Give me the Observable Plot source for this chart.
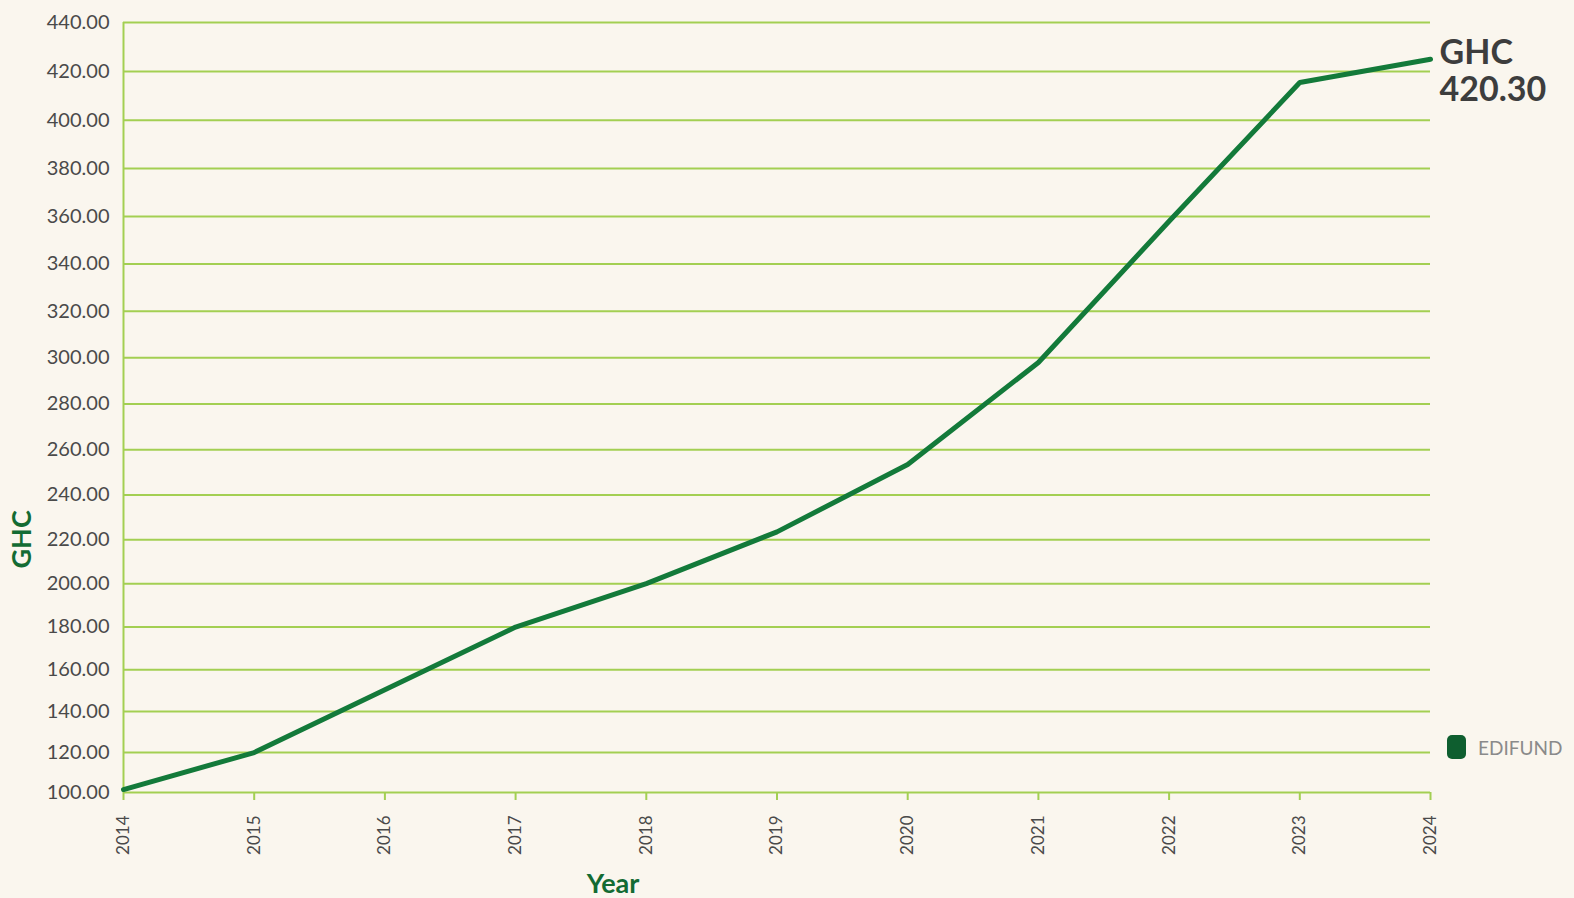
<!DOCTYPE html>
<html>
<head>
<meta charset="utf-8">
<script src="https://cdn.jsdelivr.net/npm/d3@7"></script>
<script src="https://cdn.jsdelivr.net/npm/@observablehq/plot@0.6"></script>
<style>
  html, body { margin: 0; padding: 0; background: #faf6ee; }
  #wrap { position: relative; width: 1574px; height: 898px; }
  #legend { position: absolute; left: 1447px; top: 735px; display: flex; align-items: center;
            font-family: Lato, "Open Sans", sans-serif; font-size: 19px; color: #8a8a8a; }
  #legend .sw { width: 19px; height: 24px; border-radius: 5px; background: #0e5e2f; margin-right: 12px; }
</style>
</head>
<body>
<div id="wrap"><div id="legend"><div class="sw"></div><span id="legtext"></span></div></div>
<script>
const years = [2014, 2015, 2016, 2017, 2018, 2019, 2020, 2021, 2022, 2023, 2024];
const edifund = [101.5, 120, 150.5, 180, 200, 223.5, 253.5, 298, 358, 415.5, 425];
const yTicks = [100, 120, 140, 160, 180, 200, 220, 240, 260, 280, 300, 320, 340, 360, 380, 400, 420, 440];
const seriesName = "EDIFUND";
const endLabel = ["GHC", "420.30"];
const xTitle = "Year";
const yTitle = "GHC";

const data = years.map((year, i) => ({ year, value: edifund[i] }));
const last = data[data.length - 1];

const grid = "#a3cf52";
const lineColor = "#137a3a";
const titleColor = "#136b33";
const tickText = "#4a4a4a";

document.getElementById("legtext").textContent = seriesName;

const chart = Plot.plot({
  width: 1574,
  height: 898,
  marginTop: 22,
  marginBottom: 106,
  marginLeft: 123,
  marginRight: 144,
  style: { background: "transparent", fontFamily: "Lato, 'Open Sans', sans-serif" },
  x: { domain: [2014, 2024] },
  y: { type: "pow", exponent: 1.15, domain: [100, 440] },
  marks: [
    Plot.gridY(yTicks, { stroke: grid, strokeOpacity: 1, strokeWidth: 2 }),
    Plot.ruleX([2014], { stroke: grid, strokeWidth: 2 }),
    Plot.axisX({
      ticks: years, tickFormat: d => String(d), tickSize: 8, tickPadding: 15, tickRotate: -90,
      stroke: grid, strokeWidth: 2, fill: tickText, fontSize: 17, label: null
    }),
    Plot.axisY({
      ticks: yTicks, tickFormat: d => d.toFixed(2), tickSize: 0, tickPadding: 14,
      fill: tickText, fontSize: 20, label: null
    }),
    Plot.line(data, { x: "year", y: "value", stroke: lineColor, strokeWidth: 5, strokeLinejoin: "miter" }),
    Plot.text([last], {
      x: "year", y: "value", text: () => endLabel.join("\n"),
      textAnchor: "start", lineAnchor: "middle", dx: 9, dy: 11, lineHeight: 1.1,
      fontSize: 34, fontWeight: "bold", fill: "#3d3d3d"
    }),
    Plot.text([xTitle], {
      frameAnchor: "bottom", dx: -164, dy: 100, text: d => d,
      fontSize: 27, fontWeight: "bold", fill: titleColor
    }),
    Plot.text([yTitle], {
      frameAnchor: "left", dx: -101, dy: 161, rotate: -90, text: d => d,
      fontSize: 27, fontWeight: "bold", fill: titleColor
    })
  ]
});
document.getElementById("wrap").prepend(chart);
</script>
</body>
</html>
